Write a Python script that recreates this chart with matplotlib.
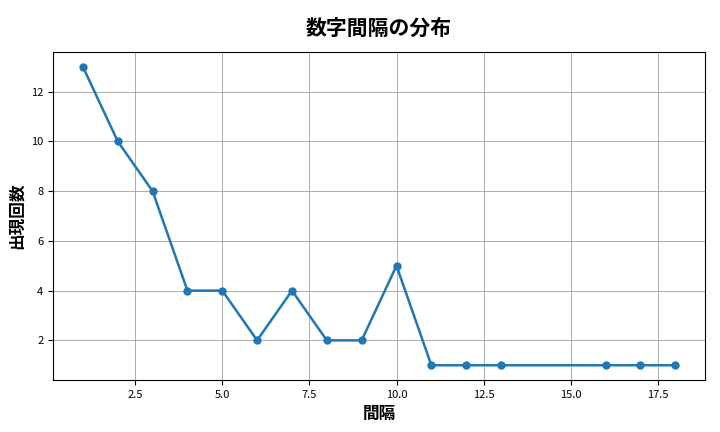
import matplotlib
matplotlib.use("Agg")
import matplotlib.pyplot as plt

plt.rcParams['font.family'] = ['Noto Sans CJK JP', 'DejaVu Sans']

gaps = [1, 2, 3, 4, 5, 6, 7, 8, 9, 10, 11, 12, 13, 16, 17, 18]
counts = [13, 10, 8, 4, 4, 2, 4, 2, 2, 5, 1, 1, 1, 1, 1, 1]

fig, ax = plt.subplots(figsize=(7.2, 4.32), dpi=100)
ax.plot(gaps, counts, marker='o', color='#1f77b4', linewidth=1.8, markersize=5)
ax.set_title('数字間隔の分布', fontsize=15, fontweight='bold', pad=12)
ax.set_xlabel('間隔', fontsize=12, fontweight='bold')
ax.set_ylabel('出現回数', fontsize=12, fontweight='bold')
ax.tick_params(labelsize=8)
ax.grid(True, color='#a0a0a0', linewidth=0.6)
fig.subplots_adjust(left=0.074, right=0.979, top=0.880, bottom=0.120)
fig.savefig('out.png')
